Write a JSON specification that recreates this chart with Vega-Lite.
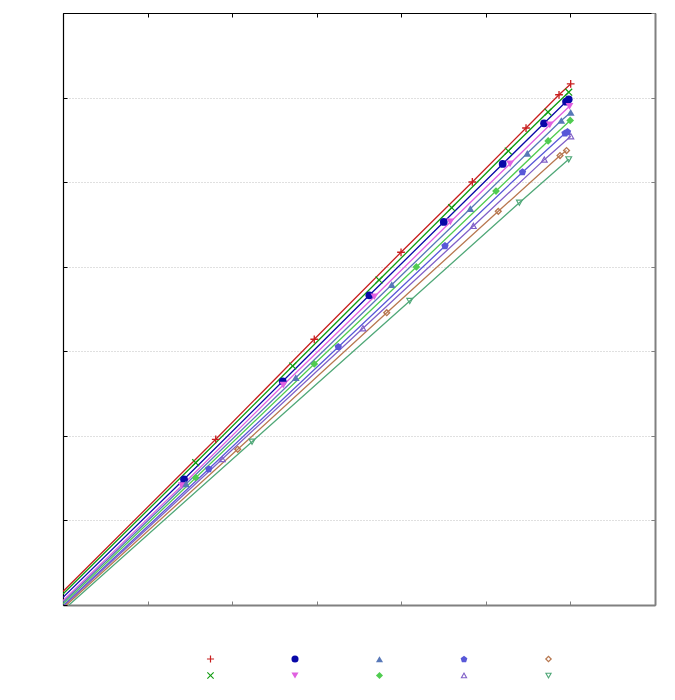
{
  "$schema": "https://vega.github.io/schema/vega-lite/v6.json",
  "width": 592,
  "height": 592,
  "autosize": {"type": "none"},
  "padding": {"left": 63, "top": 13, "right": 20, "bottom": 95},
  "background": "white",
  "config": {"view": {"stroke": null}},
  "data": {"values": [
    {"s": "1", "x": 0, "y": 0.16, "m": 0},
    {"s": "1", "x": 1.806, "y": 1.959, "m": 1},
    {"s": "1", "x": 2.971, "y": 3.142, "m": 1},
    {"s": "1", "x": 3.997, "y": 4.171, "m": 1},
    {"s": "1", "x": 4.840, "y": 5.002, "m": 1},
    {"s": "1", "x": 5.475, "y": 5.640, "m": 1},
    {"s": "1", "x": 5.865, "y": 6.033, "m": 1},
    {"s": "1", "x": 6.003, "y": 6.161, "m": 1},
    {"s": "2", "x": 0, "y": 0.13, "m": 0},
    {"s": "2", "x": 1.569, "y": 1.683, "m": 1},
    {"s": "2", "x": 2.716, "y": 2.826, "m": 1},
    {"s": "2", "x": 3.737, "y": 3.843, "m": 1},
    {"s": "2", "x": 4.596, "y": 4.698, "m": 1},
    {"s": "2", "x": 5.265, "y": 5.368, "m": 1},
    {"s": "2", "x": 5.735, "y": 5.829, "m": 1},
    {"s": "2", "x": 5.980, "y": 6.064, "m": 1},
    {"s": "3", "x": 0, "y": 0.09, "m": 0},
    {"s": "3", "x": 1.431, "y": 1.486, "m": 1},
    {"s": "3", "x": 2.598, "y": 2.645, "m": 1},
    {"s": "3", "x": 3.622, "y": 3.662, "m": 1},
    {"s": "3", "x": 4.502, "y": 4.529, "m": 1},
    {"s": "3", "x": 5.199, "y": 5.215, "m": 1},
    {"s": "3", "x": 5.688, "y": 5.696, "m": 1},
    {"s": "3", "x": 5.948, "y": 5.951, "m": 1},
    {"s": "3", "x": 5.980, "y": 5.980, "m": 1},
    {"s": "4", "x": 0, "y": 0.05, "m": 0},
    {"s": "4", "x": 1.404, "y": 1.411, "m": 1},
    {"s": "4", "x": 2.605, "y": 2.601, "m": 1},
    {"s": "4", "x": 3.681, "y": 3.645, "m": 1},
    {"s": "4", "x": 4.580, "y": 4.529, "m": 1},
    {"s": "4", "x": 5.286, "y": 5.217, "m": 1},
    {"s": "4", "x": 5.756, "y": 5.676, "m": 1},
    {"s": "4", "x": 5.989, "y": 5.897, "m": 1},
    {"s": "5", "x": 0, "y": 0.03, "m": 0},
    {"s": "5", "x": 1.454, "y": 1.431, "m": 1},
    {"s": "5", "x": 2.752, "y": 2.688, "m": 1},
    {"s": "5", "x": 3.887, "y": 3.787, "m": 1},
    {"s": "5", "x": 4.816, "y": 4.686, "m": 1},
    {"s": "5", "x": 5.490, "y": 5.341, "m": 1},
    {"s": "5", "x": 5.892, "y": 5.729, "m": 1},
    {"s": "5", "x": 6.003, "y": 5.824, "m": 1},
    {"s": "6", "x": 0, "y": 0.01, "m": 0},
    {"s": "6", "x": 1.569, "y": 1.505, "m": 1},
    {"s": "6", "x": 2.971, "y": 2.850, "m": 1},
    {"s": "6", "x": 4.178, "y": 3.997, "m": 1},
    {"s": "6", "x": 5.120, "y": 4.895, "m": 1},
    {"s": "6", "x": 5.737, "y": 5.487, "m": 1},
    {"s": "6", "x": 5.997, "y": 5.729, "m": 1},
    {"s": "7", "x": 0, "y": -0.01, "m": 0},
    {"s": "7", "x": 1.723, "y": 1.608, "m": 1},
    {"s": "7", "x": 3.255, "y": 3.051, "m": 1},
    {"s": "7", "x": 4.517, "y": 4.245, "m": 1},
    {"s": "7", "x": 5.433, "y": 5.118, "m": 1},
    {"s": "7", "x": 5.936, "y": 5.578, "m": 1},
    {"s": "7", "x": 5.965, "y": 5.593, "m": 1},
    {"s": "8", "x": 0, "y": -0.02, "m": 0},
    {"s": "8", "x": 1.884, "y": 1.726, "m": 1},
    {"s": "8", "x": 3.547, "y": 3.272, "m": 1},
    {"s": "8", "x": 4.852, "y": 4.482, "m": 1},
    {"s": "8", "x": 5.691, "y": 5.266, "m": 1},
    {"s": "8", "x": 6.005, "y": 5.542, "m": 1},
    {"s": "9", "x": 0, "y": -0.037, "m": 0},
    {"s": "9", "x": 2.066, "y": 1.841, "m": 1},
    {"s": "9", "x": 3.828, "y": 3.456, "m": 1},
    {"s": "9", "x": 5.147, "y": 4.655, "m": 1},
    {"s": "9", "x": 5.877, "y": 5.315, "m": 1},
    {"s": "9", "x": 5.954, "y": 5.374, "m": 1},
    {"s": "10", "x": 0, "y": -0.063, "m": 0},
    {"s": "10", "x": 2.235, "y": 1.931, "m": 1},
    {"s": "10", "x": 4.100, "y": 3.595, "m": 1},
    {"s": "10", "x": 5.396, "y": 4.757, "m": 1},
    {"s": "10", "x": 5.980, "y": 5.270, "m": 1}
  ]},
  "resolve": {"axis": {"x": "independent", "y": "independent"}},
  "layer": [
    {
      "mark": {"type": "line", "strokeWidth": 1.3, "clip": true},
      "encoding": {
        "x": {"field": "x", "type": "quantitative",
          "scale": {"domain": [0, 7], "nice": false, "zero": false},
          "axis": {"orient": "bottom", "title": null, "labels": false, "values": [0,1,2,3,4,5,6,7],
            "tickSize": -4, "tickColor": "#808080", "domainColor": "#808080", "domainWidth": 2, "grid": false}},
        "y": {"field": "y", "type": "quantitative",
          "scale": {"domain": [0, 7], "nice": false, "zero": false},
          "axis": {"orient": "left", "title": null, "labels": false, "values": [0,1,2,3,4,5,6,7],
            "tickSize": -4, "tickColor": "#000000", "domainColor": "#000000", "domainWidth": 1.2,
            "grid": true, "gridDash": [1, 2], "gridColor": "#c0c0c0", "gridWidth": 1}},
        "detail": {"field": "s"},
        "stroke": {"field": "s", "type": "nominal", "legend": null,
          "scale": {"domain": ["10","9","8","7","6","5","4","3","2","1"],
            "range": ["#50a878","#b87850","#8060c8","#5858d8","#50cc50","#5878b8","#e060e0","#0808a8","#109c10","#c81e1e"]}}
      }
    },
    {
      "transform": [{"filter": "datum.m == 1"}],
      "mark": {"type": "point", "filled": true, "opacity": 1, "size": 60, "clip": true},
      "encoding": {
        "x": {"field": "x", "type": "quantitative",
          "scale": {"domain": [0, 7], "nice": false, "zero": false},
          "axis": {"orient": "top", "title": null, "labels": false, "values": [0,1,2,3,4,5,6,7],
            "tickSize": -4, "tickColor": "#000000", "domainColor": "#000000", "domainWidth": 1.2, "grid": false}},
        "y": {"field": "y", "type": "quantitative",
          "scale": {"domain": [0, 7], "nice": false, "zero": false},
          "axis": {"orient": "right", "title": null, "labels": false, "values": [0,1,2,3,4,5,6,7],
            "tickSize": -4, "tickColor": "#808080", "domainColor": "#808080", "domainWidth": 2, "grid": false}},
        "color": {"field": "s", "type": "nominal",
          "scale": {"domain": ["1","2","3","4","5","6","7","8","9","10"],
            "range": ["#c81e1e","#109c10","#0808a8","#e060e0","#5878b8","#50cc50","#5858d8","#8060c8","#b87850","#50a878"]},
          "legend": {"orient": "none", "legendX": 143, "legendY": 641, "columns": 5, "title": null,
            "labelExpr": "''", "labelFontSize": 1, "labelOffset": 0, "padding": 0,
            "symbolSize": 50, "columnPadding": 75.5, "rowPadding": 8}},
        "shape": {"field": "s", "type": "nominal",
          "scale": {"domain": ["1","2","3","4","5","6","7","8","9","10"],
            "range": [
              "M-1,-0.17H-0.17V-1H0.17V-0.17H1V0.17H0.17V1H-0.17V0.17H-1Z",
              "M-1,-0.78L-0.78,-1L0,-0.22L0.78,-1L1,-0.78L0.22,0L1,0.78L0.78,1L0,0.22L-0.78,1L-1,0.78L-0.22,0Z",
              "circle",
              "triangle-down",
              "triangle-up",
              "diamond",
              "M0,-1L0.951,-0.309L0.588,0.809L-0.588,0.809L-0.951,-0.309Z",
              "M0,-1L1,0.8L-1,0.8ZM0,-0.38L-0.48,0.5L0.48,0.5Z",
              "M0,-1L1,0L0,1L-1,0ZM0,-0.5L-0.5,0L0,0.5L0.5,0Z",
              "M0,1L1,-0.8L-1,-0.8ZM0,0.38L-0.48,-0.5L0.48,-0.5Z"
            ]}}
      }
    }
  ]
}
